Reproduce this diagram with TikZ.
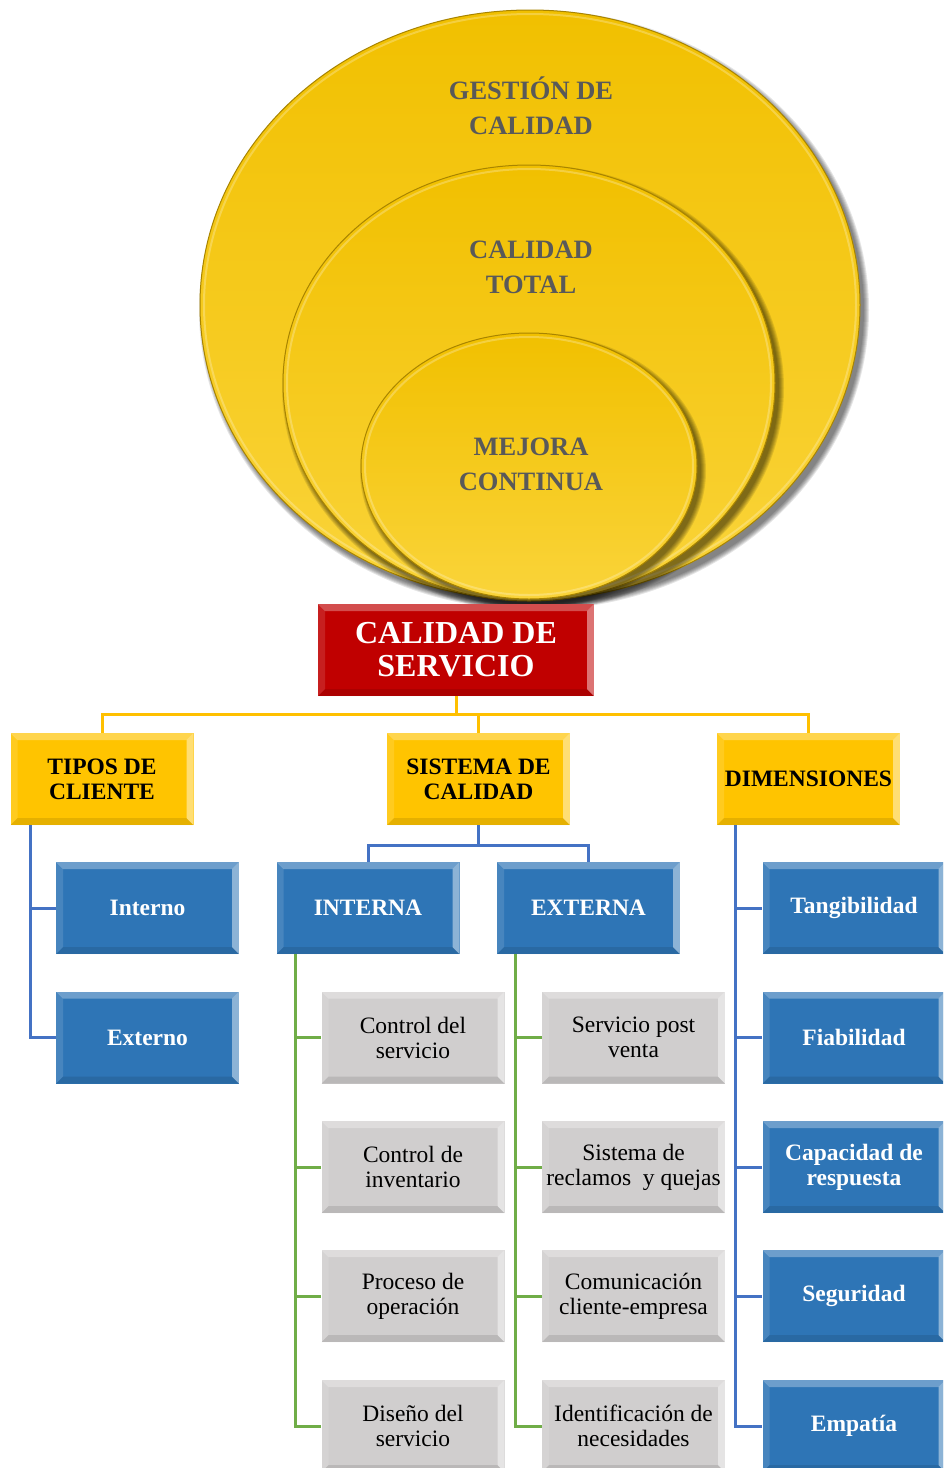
\documentclass[tikz,border=0pt]{standalone}
\usepackage{fontspec}
\setmainfont{Liberation Serif}
\usetikzlibrary{calc}
\definecolor{goldA}{HTML}{F1C000}
\definecolor{goldB}{HTML}{FAD43A}
\definecolor{goldRim}{HTML}{A88400}
\definecolor{ovaltext}{HTML}{595959}
\definecolor{boxred}{HTML}{C00000}
\definecolor{boxyellow}{HTML}{FFC400}
\definecolor{boxblue}{HTML}{2E75B6}
\definecolor{boxgrey}{HTML}{D0CECE}
\definecolor{lineyellow}{HTML}{FFC000}
\definecolor{lineblue}{HTML}{4472C4}
\definecolor{linegreen}{HTML}{70AD47}
\tikzset{
  bevel/.style={path picture={
    \path (path picture bounding box.north west) coordinate (q1)
          (path picture bounding box.north east) coordinate (q2)
          (path picture bounding box.south east) coordinate (q3)
          (path picture bounding box.south west) coordinate (q4);
    \fill[white,opacity=.30] (q1) -- (q2) -- ([shift={(-7pt,-7pt)}]q2) -- ([shift={(7pt,-7pt)}]q1) -- cycle;
    \fill[white,opacity=.12] (q1) -- (q4) -- ([shift={(7pt,7pt)}]q4) -- ([shift={(7pt,-7pt)}]q1) -- cycle;
    \fill[white,opacity=.45] (q2) -- (q3) -- ([shift={(-7pt,7pt)}]q3) -- ([shift={(-7pt,-7pt)}]q2) -- cycle;
    \fill[black,opacity=.10] (q4) -- (q3) -- ([shift={(-7pt,7pt)}]q3) -- ([shift={(7pt,7pt)}]q4) -- cycle;
  }},
  box/.style={minimum width=183pt, minimum height=92pt, inner sep=0pt, align=center, bevel},
  redbox/.style={box, fill=boxred, text=white, minimum width=276pt,
    font=\fontsize{32}{33}\selectfont\bfseries},
  yellowbox/.style={box, fill=boxyellow, text=black,
    font=\fontsize{23.5}{25}\selectfont\bfseries},
  bluebox/.style={box, fill=boxblue, text=white,
    font=\fontsize{23.5}{25}\selectfont\bfseries},
  greybox/.style={box, fill=boxgrey, text=black,
    font=\fontsize{23.5}{25}\selectfont},
  ovallabel/.style={align=center, text=ovaltext, inner sep=0pt,
    font=\fontsize{26.5}{35}\selectfont\bfseries},
  conn/.style={line width=3pt},
  yline/.style={conn, draw=lineyellow},
  bline/.style={conn, draw=lineblue},
  gline/.style={conn, draw=linegreen},
  oval/.style={top color=goldA, bottom color=goldB, draw=goldRim, line width=1pt},
}
\begin{document}
\begin{tikzpicture}[x=1pt,y=-1pt]
\useasboundingbox (0,0) rectangle (943,1468);
\clip (0,0) rectangle (943,1468);
\fill[white] (0,0) rectangle (943,1468);

% nested ovals with soft shadows
\foreach \cx/\cy/\rx/\ry in {530/305/330/295, 529/383/246/218, 529/466/168/133}{
  \foreach \k in {0,...,5}{
    \fill[black,opacity=.10] (\cx+4,\cy+5) ellipse [x radius=\rx+5-\k, y radius=\ry+5-\k];
  }
  \path[oval] (\cx,\cy) ellipse [x radius=\rx, y radius=\ry];
  \draw[white,opacity=.25,line width=2pt] (\cx,\cy) ellipse [x radius=\rx-4, y radius=\ry-4];
}
\node[ovallabel] (gestion) at (531,106) {GESTIÓN DE\\CALIDAD};
\node[ovallabel] (total) at (531,267) {CALIDAD\\TOTAL};
\node[ovallabel] (mejora) at (531,464) {MEJORA\\CONTINUA};

% helper points for the tree
\coordinate (ybus) at (0,714);
\coordinate (sbus) at (0,845);
\coordinate (tipostrunk) at (30,825);
\coordinate (intrunk) at (295,954);
\coordinate (extrunk) at (515,954);
\coordinate (dimtrunk) at (735,825);

% main boxes
\node[redbox] (servicio) at (456,650) {CALIDAD DE\\SERVICIO};
\node[yellowbox] (tipos) at (102,779) {TIPOS DE\\CLIENTE};
\node[yellowbox] (sistema) at (478.5,779) {SISTEMA DE\\CALIDAD};
\node[yellowbox] (dimens) at (808.5,779) {DIMENSIONES};

\node[bluebox] (interno) at (147.5,908) {Interno};
\node[bluebox] (externo) at (147.5,1037.5) {Externo};

\node[bluebox] (interna) at (368,908) {INTERNA};
\node[bluebox] (externa) at (588.5,908) {EXTERNA};

\node[greybox] (ctrlserv) at (413,1037.5) {Control del\\servicio};
\node[greybox] (ctrlinv) at (413,1167) {Control de\\inventario};
\node[greybox] (proceso) at (413,1296) {Proceso de\\operación};
\node[greybox] (diseno) at (413,1426) {Diseño del\\servicio};

\node[greybox] (postventa) at (633.5,1037.5) {Servicio post\\venta};
\node[greybox] (reclamos) at (633.5,1167) {Sistema de\\reclamos \ y quejas};
\node[greybox] (comunic) at (633.5,1296) {Comunicación\\cliente-empresa};
\node[greybox] (identif) at (633.5,1426) {Identificación de\\necesidades};

\node[bluebox] (tangib) at (854,908) {Tangibilidad};
\node[bluebox] (fiab) at (854,1037.5) {Fiabilidad};
\node[bluebox] (capac) at (854,1167) {Capacidad de\\respuesta};
\node[bluebox] (segur) at (854,1296) {Seguridad};
\node[bluebox] (empat) at (854,1426) {Empatía};

% tree connectors
\draw[yline] (servicio.south) -- (servicio.south |- ybus) -| (tipos.north);
\draw[yline] (servicio.south) -- (servicio.south |- ybus) -| (sistema.north);
\draw[yline] (servicio.south) -- (servicio.south |- ybus) -| (dimens.north);

\draw[bline] (tipostrunk) |- (interno.west);
\draw[bline] (tipostrunk) |- (externo.west);

\draw[bline] (sistema.south) -- (sistema.south |- sbus) -| (interna.north);
\draw[bline] (sistema.south) -- (sistema.south |- sbus) -| (externa.north);

\foreach \t in {ctrlserv,ctrlinv,proceso,diseno}
  \draw[gline] (intrunk) |- (\t.west);
\foreach \t in {postventa,reclamos,comunic,identif}
  \draw[gline] (extrunk) |- (\t.west);

\foreach \t in {tangib,fiab,capac,segur,empat}
  \draw[bline] (dimtrunk) |- (\t.west);
\end{tikzpicture}
\end{document}
